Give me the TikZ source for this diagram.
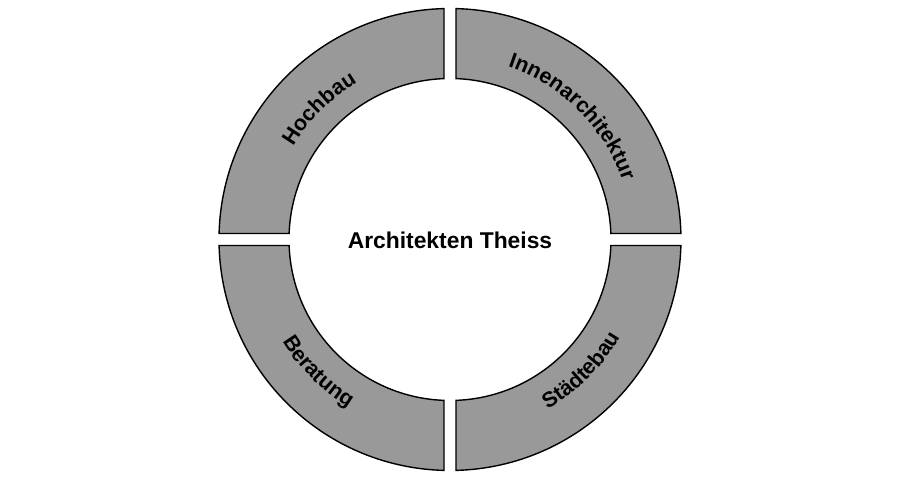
\documentclass[tikz,border=0pt]{standalone}
\usepackage{fontspec}
\setmainfont{Liberation Sans}
\usetikzlibrary{decorations.text}
\definecolor{ringgray}{RGB}{153,153,153}
\newcommand{\lblfont}{\bfseries\fontsize{12.2}{14}\selectfont}
\tikzset{
  ringseg/.style={draw=black,fill=ringgray,line width=0.8pt},
  arclbl/.style={decorate,decoration={text along path,text align=center,text={|\lblfont|#1}}}
}

\begin{document}
\begin{tikzpicture}
   \useasboundingbox (-9,-4.75) rectangle (9,4.79);
   % four ring pieces, gap of 0.12 either side of the axes
   \foreach \q in {0,90,180,270}
     \draw [ringseg,rotate=\q] ({asin(0.12/4.62)}:4.62) arc ({asin(0.12/4.62)}:{90-asin(0.12/4.62)}:4.62)
        -- ({90-asin(0.12/3.22)}:3.22) arc ({90-asin(0.12/3.22)}:{asin(0.12/3.22)}:3.22) -- cycle;
   \node [font=\bfseries\fontsize{13}{15}\selectfont] (title) at (0,-0.01) {Architekten Theiss};
   \path [arclbl=Innenarchitektur] (90:3.64) arc (90:0:3.64);
   \path [arclbl=Hochbau] (180:3.64) arc (180:90:3.64);
   \path [arclbl=Beratung] (180:3.92) arc (180:270:3.92);
   \path [arclbl=Städtebau] (270:3.92) arc (270:360:3.92);
\end{tikzpicture}
\end{document}
